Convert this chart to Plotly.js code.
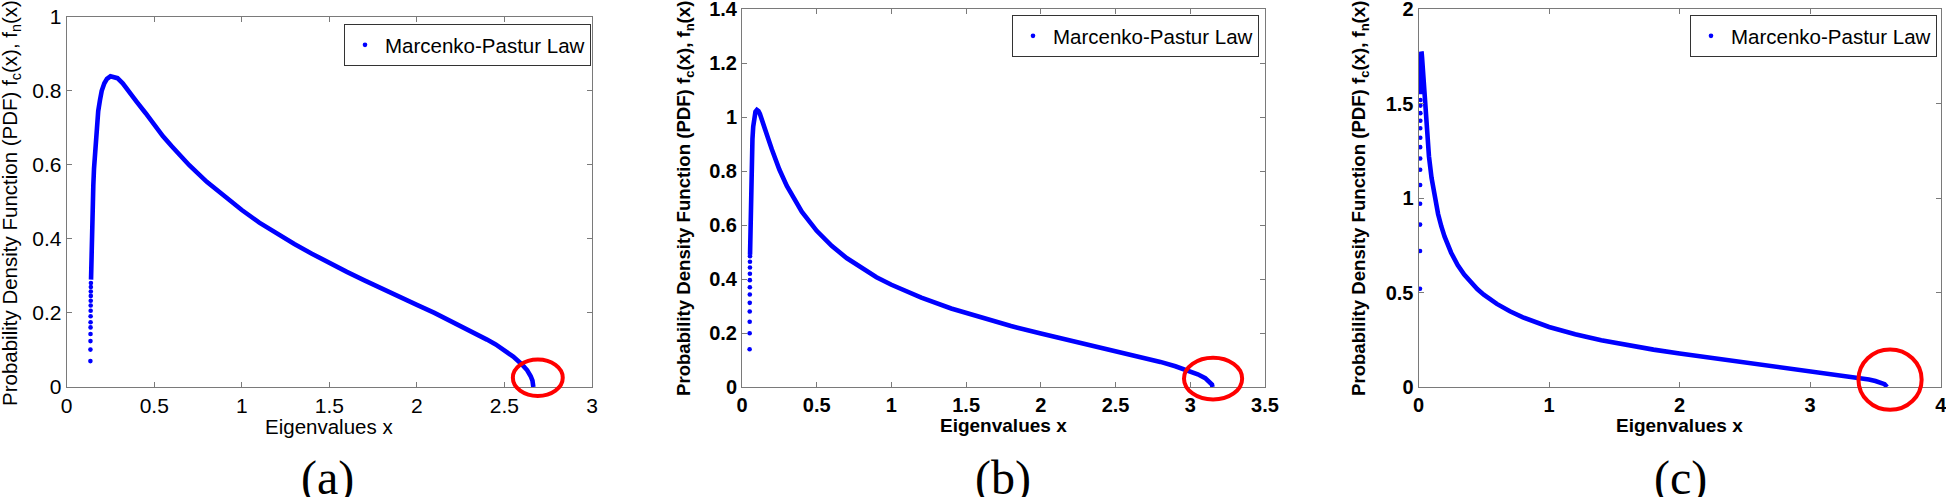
<!DOCTYPE html>
<html><head><meta charset="utf-8">
<script src="https://cdn.plot.ly/plotly-3.0.1.min.js"></script>
<style>html,body{margin:0;padding:0;background:#fff;overflow:hidden}#chart{width:1946px;height:497px}</style>
</head><body><div id="chart"></div>
<script>
// ---------- data ----------
const seriesName = 'Marcenko-Pastur Law';
const xTitle = 'Eigenvalues x';
const yTitle = 'Probability Density Function (PDF) f<sub>c</sub>(x), f<sub>n</sub>(x)';
const panelLabels = ['(a)', '(b)', '(c)'];

// panel (a)
const aDotX = [0.1353,0.1355,0.1358,0.1360,0.1362,0.1364,0.1366,0.1369,0.1371,0.1373,0.1375,0.1377,0.1380,0.1382];
const aDotY = [0.070,0.101,0.124,0.143,0.161,0.175,0.191,0.206,0.220,0.233,0.246,0.258,0.270,0.281];
const aCurveX = [0.139,0.140,0.142,0.145,0.148,0.152,0.156,0.160,0.165,0.170,0.180,0.190,0.200,0.215,0.230,0.250,0.270,0.290,0.320,0.350,0.400,0.450,0.500,0.550,0.600,0.700,0.800,0.900,1.000,1.100,1.200,1.300,1.400,1.500,1.600,1.700,1.800,1.900,2.000,2.100,2.200,2.300,2.400,2.450,2.500,2.550,2.600,2.630,2.650,2.660,2.665];
const aCurveY = [0.29,0.32,0.37,0.44,0.49,0.545,0.59,0.625,0.665,0.695,0.745,0.775,0.80,0.82,0.832,0.839,0.838,0.834,0.82,0.80,0.77,0.74,0.707,0.677,0.65,0.599,0.554,0.514,0.478,0.444,0.414,0.386,0.36,0.334,0.311,0.288,0.265,0.243,0.222,0.20,0.177,0.154,0.128,0.115,0.10,0.082,0.061,0.045,0.029,0.017,0.0];
const aXTicks = [0,0.5,1,1.5,2,2.5,3];
const aXTickText = ['0','0.5','1','1.5','2','2.5','3'];
const aYTicks = [0,0.2,0.4,0.6,0.8,1];
const aYTickText = ['0','0.2','0.4','0.6','0.8','1'];
const aRange = {x:[0,3], y:[0,1]};
const aCircle = [2.548, 2.833, -0.024, 0.074];

// panel (b)
const bDotX = [0.0510,0.0513,0.0515,0.0517,0.0519,0.0522,0.0524,0.0526,0.0529,0.0531,0.0533,0.0535];
const bDotY = [0.14,0.199,0.242,0.28,0.312,0.343,0.37,0.396,0.42,0.443,0.464,0.485];
const bCurveX = [0.0538,0.055,0.057,0.060,0.065,0.070,0.075,0.080,0.090,0.100,0.110,0.120,0.130,0.150,0.175,0.200,0.250,0.300,0.350,0.400,0.500,0.600,0.700,0.800,0.900,1.000,1.200,1.400,1.600,1.800,2.000,2.200,2.400,2.600,2.800,2.900,3.000,3.050,3.100,3.130,3.145,3.149];
const bCurveY = [0.49,0.55,0.64,0.745,0.855,0.92,0.965,0.993,1.02,1.027,1.023,1.012,0.997,0.964,0.921,0.88,0.806,0.745,0.694,0.65,0.579,0.523,0.478,0.44,0.407,0.379,0.331,0.291,0.257,0.226,0.198,0.172,0.147,0.121,0.093,0.077,0.059,0.047,0.033,0.02,0.009,0.0];
const bXTicks = [0,0.5,1,1.5,2,2.5,3,3.5];
const bXTickText = ['0','0.5','1','1.5','2','2.5','3','3.5'];
const bYTicks = [0,0.2,0.4,0.6,0.8,1,1.2,1.4];
const bYTickText = ['0','0.2','0.4','0.6','0.8','1','1.2','1.4'];
const bRange = {x:[0,3.5], y:[0,1.4]};
const bCircle = [2.958, 3.347, -0.046, 0.108];

// panel (c)
const cDotX = [0.01145,0.0117,0.01195,0.0122,0.01245,0.0127,0.01295,0.0132,0.01345,0.0137,0.01395,0.0142,0.01445,0.0147];
const cDotY = [0.52,0.72,0.86,0.97,1.07,1.15,1.21,1.27,1.32,1.37,1.41,1.45,1.49,1.52];
const cCurveX = [0.015,0.016,0.018,0.020,0.022,0.024,0.027,0.030,0.035,0.040,0.050,0.060,0.070,0.080,0.100,0.125,0.150,0.175,0.200,0.250,0.300,0.350,0.400,0.450,0.500,0.600,0.700,0.800,1.000,1.200,1.400,1.600,1.800,2.000,2.200,2.400,2.600,2.800,3.000,3.200,3.300,3.400,3.450,3.500,3.540,3.570,3.589];
const cCurveY = [1.55,1.63,1.72,1.763,1.775,1.771,1.748,1.716,1.653,1.59,1.475,1.376,1.293,1.222,1.107,1.0,0.916,0.85,0.796,0.711,0.646,0.596,0.554,0.519,0.489,0.44,0.401,0.369,0.318,0.279,0.248,0.221,0.198,0.177,0.158,0.14,0.122,0.105,0.088,0.069,0.059,0.047,0.04,0.032,0.023,0.015,0.0];
const cXTicks = [0,1,2,3,4];
const cXTickText = ['0','1','2','3','4'];
const cYTicks = [0,0.5,1,1.5,2];
const cYTickText = ['0','0.5','1','1.5','2'];
const cRange = {x:[0,4], y:[0,2]};
const cCircle = [3.37, 3.854, -0.121, 0.199];

// ---------- layout geometry (pixels) ----------
const W = 1946, H = 497;
const px = v => v / W;
const py = v => 1 - v / H;
const FONT = 'Liberation Sans, Arial, Helvetica, sans-serif';
const SERIF = 'Liberation Serif, Times New Roman, serif';
const BLUE = '#0000ff';
const FRAME = '#7a7a7a';

const panels = [
  {dx:aDotX, dy:aDotY, cx:aCurveX, cy:aCurveY, xt:aXTicks, xtt:aXTickText, yt:aYTicks, ytt:aYTickText, r:aRange, circ:aCircle,
   box:[66.7, 592, 16.7, 387], weight:'normal', tick:21, title:20.5, ytx:11, yty:203, xty:426, lab:327, leg:[344, 24]},
  {dx:bDotX, dy:bDotY, cx:bCurveX, cy:bCurveY, xt:bXTicks, xtt:bXTickText, yt:bYTicks, ytt:bYTickText, r:bRange, circ:bCircle,
   box:[742, 1265, 9.3, 387], weight:'bold', tick:20, title:18.6, ytx:685, yty:199, xty:425, lab:1003, leg:[1012, 15]},
  {dx:cDotX, dy:cDotY, cx:cCurveX, cy:cCurveY, xt:cXTicks, xtt:cXTickText, yt:cYTicks, ytt:cYTickText, r:cRange, circ:cCircle,
   box:[1418.5, 1940.7, 9.3, 387], weight:'bold', tick:20, title:18.6, ytx:1360, yty:199, xty:425, lab:1680, leg:[1690, 15]}
];

const data = [];
const layout = {
  width: W, height: H, margin:{l:0, r:0, t:0, b:0},
  paper_bgcolor:'#fff', plot_bgcolor:'#fff', showlegend:true,
  annotations:[], shapes:[]
};

panels.forEach((p, i) => {
  const n = i === 0 ? '' : String(i + 1);
  const xd = [px(p.box[0]), px(p.box[1])];
  const yd = [py(p.box[3]), py(p.box[2])];
  const tf = {family:FONT, size:p.tick, color:'#000', weight:p.weight};
  const common = {showline:true, linecolor:FRAME, linewidth:1, mirror:'ticks', ticks:'inside', ticklen:5,
    tickcolor:FRAME, tickwidth:1, showgrid:false, zeroline:false, tickmode:'array', fixedrange:true, tickfont:tf,
    ticklabeloverflow:'allow', automargin:false};
  layout['xaxis' + n] = Object.assign({}, common, {domain:xd, range:p.r.x, tickvals:p.xt, ticktext:p.xtt, anchor:'y' + n});
  layout['yaxis' + n] = Object.assign({}, common, {domain:yd, range:p.r.y, tickvals:p.yt, ticktext:p.ytt, anchor:'x' + n});
  const legName = i === 0 ? 'legend' : 'legend' + (i + 1);
  layout[legName] = {x:px(p.leg[0]), y:py(p.leg[1]), xanchor:'left', yanchor:'top', bgcolor:'#fff',
    bordercolor:'#333', borderwidth:1, font:{family:FONT, size:20.5, color:'#000'}, tracegroupgap:0};

  data.push({type:'scatter', mode:'lines', x:p.cx, y:p.cy, xaxis:'x' + n, yaxis:'y' + n,
    line:{color:BLUE, width:4.6}, showlegend:false, hoverinfo:'skip'});
  data.push({type:'scatter', mode:'markers', x:p.dx, y:p.dy, xaxis:'x' + n, yaxis:'y' + n,
    marker:{color:BLUE, size:4.6}, name:seriesName, legend:legName, showlegend:true});

  // red ellipse, converted from data space through the axis scales
  const sx = v => xd[0] + (v - p.r.x[0]) / (p.r.x[1] - p.r.x[0]) * (xd[1] - xd[0]);
  const sy = v => yd[0] + (v - p.r.y[0]) / (p.r.y[1] - p.r.y[0]) * (yd[1] - yd[0]);
  layout.shapes.push({type:'circle', xref:'paper', yref:'paper', layer:'above',
    x0:sx(p.circ[0]), x1:sx(p.circ[1]), y0:sy(p.circ[2]), y1:sy(p.circ[3]),
    line:{color:'#ff0000', width:4}, fillcolor:'rgba(0,0,0,0)'});

  const titleFont = {family:FONT, size:p.title, color:'#000', weight:p.weight};
  layout.annotations.push({text:yTitle, textangle:-90, xref:'paper', yref:'paper', x:px(p.ytx), y:py(p.yty),
    xanchor:'center', yanchor:'middle', showarrow:false, font:titleFont});
  layout.annotations.push({text:xTitle, xref:'paper', yref:'paper', x:px((p.box[0] + p.box[1]) / 2), y:py(p.xty),
    xanchor:'center', yanchor:'middle', showarrow:false, font:Object.assign({}, titleFont, {size:p.weight === 'bold' ? 19 : 20.5})});
  layout.annotations.push({text:panelLabels[i], xref:'paper', yref:'paper', x:px(p.lab), y:py(478),
    xanchor:'center', yanchor:'middle', showarrow:false, font:{family:SERIF, size:48, color:'#000'}});
});

Plotly.newPlot('chart', data, layout, {staticPlot:true, displayModeBar:false});
</script></body></html>
